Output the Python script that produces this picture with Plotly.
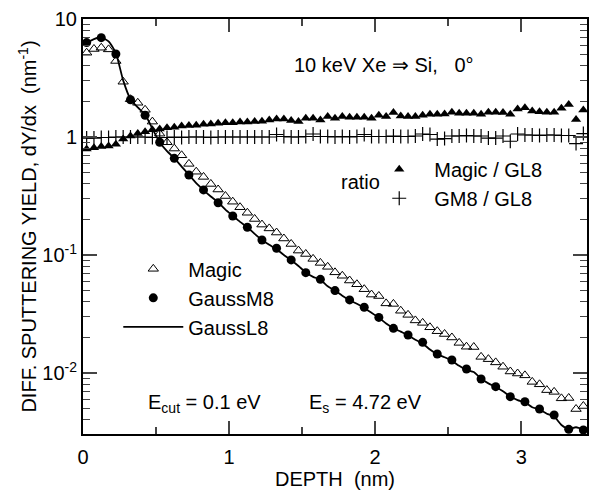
import plotly.graph_objects as go

# depth bins (nm)
depth = [0.025, 0.075, 0.125, 0.175, 0.225, 0.275, 0.325, 0.375, 0.425, 0.475,
         0.525, 0.575, 0.625, 0.675, 0.725, 0.775, 0.825, 0.875, 0.925, 0.975,
         1.025, 1.075, 1.125, 1.175, 1.225, 1.275, 1.325, 1.375, 1.425, 1.475,
         1.525, 1.575, 1.625, 1.675, 1.725, 1.775, 1.825, 1.875, 1.925, 1.975,
         2.025, 2.075, 2.125, 2.175, 2.225, 2.275, 2.325, 2.375, 2.425, 2.475,
         2.525, 2.575, 2.625, 2.675, 2.725, 2.775, 2.825, 2.875, 2.925, 2.975,
         3.025, 3.075, 3.125, 3.175, 3.225, 3.275, 3.325, 3.375, 3.425]

magic = [5.18, 5.57, 5.71, 5.53, 4.41, 2.94, 2.09, 1.95, 1.70, 1.35,
         1.067, 0.902, 0.798, 0.700, 0.592, 0.508, 0.459, 0.400, 0.359, 0.316,
         0.283, 0.254, 0.228, 0.202, 0.181, 0.168, 0.155, 0.138, 0.124, 0.109,
         0.102, 0.0927, 0.0857, 0.0794, 0.0713, 0.0667, 0.0608, 0.0565, 0.0513, 0.0462,
         0.0449, 0.0389, 0.0385, 0.0337, 0.0311, 0.0279, 0.0266, 0.0244, 0.0226, 0.0214,
         0.0200, 0.0180, 0.0167, 0.0166, 0.0137, 0.0131, 0.0123, 0.0113, 0.0103, 0.0099,
         0.00955, 0.00841, 0.00802, 0.00716, 0.00692, 0.00610, 0.00614, 0.00495, 0.00525]

gaussl8 = [6.31, 6.76, 7.00, 6.46, 5.13, 3.02, 2.09, 1.78, 1.55, 1.175,
           0.902, 0.759, 0.661, 0.562, 0.479, 0.407, 0.355, 0.313, 0.279, 0.242,
           0.215, 0.191, 0.172, 0.151, 0.134, 0.122, 0.112, 0.100, 0.0902, 0.0807,
           0.0711, 0.0653, 0.0617, 0.0543, 0.0499, 0.0452, 0.0414, 0.0386, 0.0356, 0.0324,
           0.0294, 0.0263, 0.0240, 0.0224, 0.0209, 0.0191, 0.0178, 0.0158, 0.0144, 0.0136,
           0.0127, 0.0115, 0.0106, 0.0102, 0.00891, 0.00817, 0.00762, 0.00700, 0.00631, 0.00589,
           0.00562, 0.00513, 0.00490, 0.00452, 0.00427, 0.00363, 0.00335, 0.00347, 0.00331]

gm8_depth = [0.025, 0.125, 0.225, 0.325, 0.425, 0.525, 0.625, 0.725, 0.825, 0.925,
             1.025, 1.125, 1.225, 1.325, 1.425, 1.525, 1.625, 1.725, 1.825, 1.925,
             2.025, 2.125, 2.225, 2.325, 2.425, 2.525, 2.625, 2.725, 2.825, 2.925,
             3.025, 3.125, 3.225, 3.325, 3.425]
gaussm8 = [6.31, 6.95, 5.05, 2.07, 1.53, 0.902, 0.659, 0.476, 0.356, 0.277,
           0.214, 0.172, 0.134, 0.114, 0.0908, 0.0708, 0.0622, 0.0499, 0.0416, 0.0361,
           0.0296, 0.0239, 0.0210, 0.0182, 0.0145, 0.0129, 0.0108, 0.00889, 0.00766, 0.00630,
           0.00571, 0.00495, 0.00441, 0.00333, 0.00329]

ratio_magic_gl8 = [0.79, 0.81, 0.83, 0.84, 0.87, 0.96, 1.02, 1.07, 1.11, 1.15,
                   1.17, 1.20, 1.21, 1.24, 1.25, 1.26, 1.28, 1.29, 1.31, 1.32,
                   1.32, 1.34, 1.34, 1.35, 1.36, 1.39, 1.42, 1.42, 1.38, 1.35,
                   1.44, 1.44, 1.39, 1.49, 1.44, 1.49, 1.47, 1.47, 1.47, 1.44,
                   1.53, 1.49, 1.61, 1.51, 1.49, 1.49, 1.53, 1.56, 1.56, 1.57,
                   1.62, 1.59, 1.59, 1.59, 1.56, 1.62, 1.62, 1.61, 1.56, 1.73,
                   1.77, 1.66, 1.64, 1.62, 1.62, 1.75, 1.89, 1.41, 1.69]

ratio_gm8_gl8 = [0.98, 0.98, 0.99, 0.99, 1.00, 1.00, 1.00, 1.00, 1.00, 0.99,
                 0.99, 0.99, 1.00, 0.99, 1.00, 1.00, 1.00, 0.99, 1.00, 1.00,
                 1.00, 1.00, 1.00, 1.00, 1.00, 1.00, 1.05, 1.01, 1.00, 1.00,
                 1.01, 1.06, 1.01, 1.01, 1.00, 1.01, 1.00, 1.01, 1.05, 1.01,
                 1.01, 1.01, 1.02, 1.01, 1.01, 1.02, 1.06, 1.05, 0.96, 0.97,
                 1.02, 1.02, 1.03, 1.02, 1.02, 0.98, 0.98, 1.02, 0.92, 1.06,
                 1.04, 1.04, 1.03, 1.04, 1.04, 1.03, 1.03, 0.88, 1.07]

x_ticks = [0, 1, 2, 3]
y_ticks = [0.01, 0.1, 1, 10]
y_ticktext = ["10<sup>-2</sup>", "10<sup>-1</sup>", "1", "10"]

FONT = "Liberation Sans, Arial, sans-serif"
NB = "\u00a0"
FS = 20

fig = go.Figure()

fig.add_trace(go.Scatter(x=depth, y=ratio_magic_gl8, mode="markers", name="Magic / GL8",
                         legend="legend2",
                         marker=dict(symbol="triangle-up", size=9, color="black")))
fig.add_trace(go.Scatter(x=depth, y=ratio_gm8_gl8, mode="markers", name="GM8 / GL8",
                         legend="legend2",
                         marker=dict(symbol="cross-thin", size=10, color="black",
                                     line=dict(width=1.2, color="black"))))
fig.add_trace(go.Scatter(x=depth, y=magic, mode="markers", name="Magic",
                         marker=dict(symbol="triangle-up-open", size=9, color="black",
                                     line=dict(width=1, color="black"))))
fig.add_trace(go.Scatter(x=gm8_depth, y=gaussm8, mode="markers", name="GaussM8",
                         marker=dict(symbol="circle", size=9, color="black")))
fig.add_trace(go.Scatter(x=depth, y=gaussl8, mode="lines", name="GaussL8",
                         line=dict(color="black", width=1.8, shape="spline", smoothing=0.6)))

fig.update_layout(
    width=590, height=497,
    margin=dict(l=83, r=3, t=19, b=63, autoexpand=False),
    paper_bgcolor="white", plot_bgcolor="white",
    font=dict(family=FONT, size=FS, color="black"),
    showlegend=True,
    legend=dict(x=0.07, y=0.445, xanchor="left", yanchor="top",
                bgcolor="rgba(0,0,0,0)", font=dict(size=FS), itemwidth=60,
                tracegroupgap=0),
    legend2=dict(x=0.558, y=0.685, xanchor="left", yanchor="top",
                 bgcolor="rgba(0,0,0,0)", font=dict(size=FS), itemwidth=60),
)

fig.update_xaxes(
    range=[0, 3.45], tickvals=x_ticks, ticks="inside", ticklen=13, tickwidth=1.5,
    showline=True, linewidth=2, linecolor="black", mirror="ticks",
    showgrid=False, zeroline=False, automargin=False,
    minor=dict(dtick=0.5, tick0=0, ticks="inside", ticklen=7, tickwidth=1.5, showgrid=False),
    tickfont=dict(size=FS), ticklabelstandoff=4,
    title=dict(text="DEPTH" + NB + NB + "(nm)", font=dict(size=FS), standoff=4),
)
fig.update_yaxes(
    type="log", range=[-2.517, 1], tickvals=y_ticks, ticktext=y_ticktext,
    ticks="inside", ticklen=14, tickwidth=1.5,
    showline=True, linewidth=2, linecolor="black", mirror="ticks",
    showgrid=False, zeroline=False, automargin=False,
    minor=dict(dtick="D1", ticks="inside", ticklen=7, tickwidth=1.2, showgrid=False),
    tickfont=dict(size=FS), ticklabelstandoff=0,
    title=dict(text="DIFF." + NB + "SPUTTERING YIELD," + NB + "dY/dx" + NB + NB + "(nm<sup>-1</sup>)",
               font=dict(size=FS), standoff=0),
)

fig.add_annotation(xref="paper", yref="paper", x=0.415, y=0.889, xanchor="left", yanchor="middle",
                   text="10 keV Xe \u21d2 Si," + NB + NB + NB + "0\u00b0", showarrow=False,
                   font=dict(size=FS))
fig.add_annotation(xref="paper", yref="paper", x=0.508, y=0.607, xanchor="left", yanchor="middle",
                   text="ratio", showarrow=False, font=dict(size=FS))
fig.add_annotation(xref="paper", yref="paper", x=0.125, y=0.038, xanchor="left", yanchor="bottom",
                   text="E<sub>cut</sub> = 0.1 eV", showarrow=False, font=dict(size=FS))
fig.add_annotation(xref="paper", yref="paper", x=0.444, y=0.038, xanchor="left", yanchor="bottom",
                   text="E<sub>s</sub> = 4.72 eV", showarrow=False, font=dict(size=FS))

fig.write_html("out.html", post_script="document.body.style.margin='0';",
               config={"displayModeBar": False})
